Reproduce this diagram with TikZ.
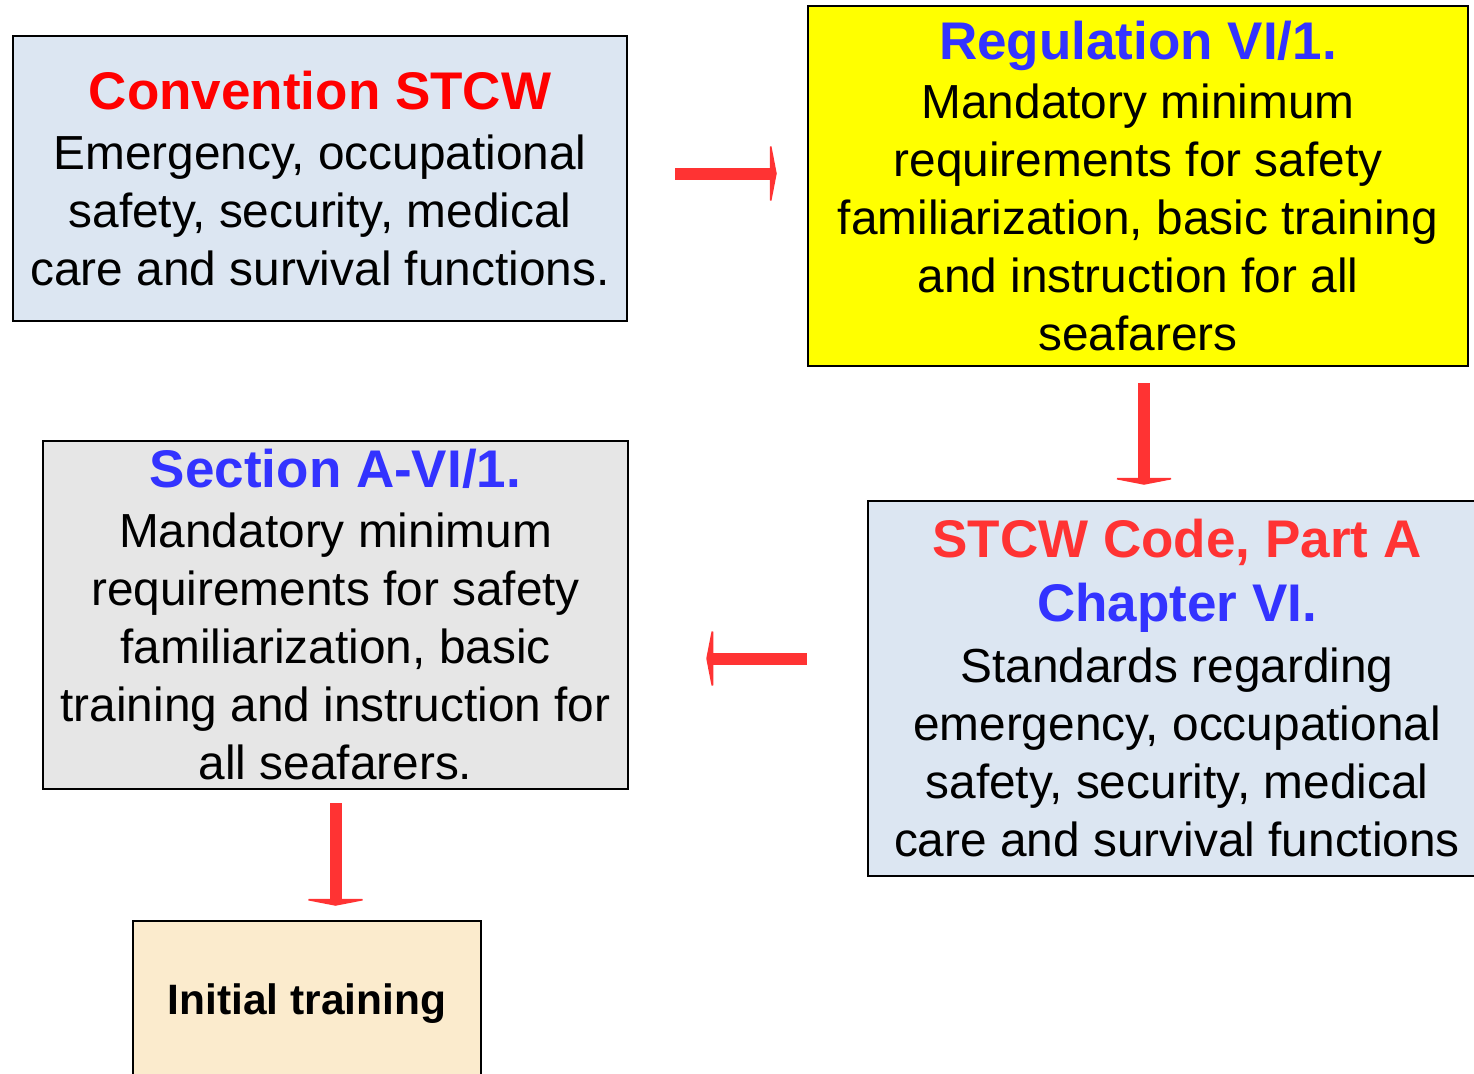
\documentclass[tikz,border=0pt]{standalone}
\usepackage{fontspec}
\setmainfont{Liberation Sans}
\usepackage{xcolor}
\usetikzlibrary{arrows.meta,calc}
\definecolor{boxblue}{HTML}{DCE6F2}
\definecolor{boxgray}{HTML}{E6E6E6}
\definecolor{boxyellow}{HTML}{FFFF00}
\definecolor{boxsand}{HTML}{FBEBCD}
\definecolor{arrowred}{HTML}{FF3333}
\definecolor{titlered}{HTML}{FF0000}
\definecolor{titleblue}{HTML}{3333FF}
\tikzset{
	box/.style={
			draw=black, line width=2.5pt, inner sep=0pt, align=center,
			font=\fontsize{47.8}{58}\selectfont
		},
	flow/.style={
			arrowred, line width=12pt,
			-{Triangle[width=72pt, length=7pt]}
		}
}
\newcommand{\boxtitle}[2]{{\bfseries\fontsize{53}{58}\selectfont\color{#1}#2}}

\begin{document}
\begin{tikzpicture}[x=1pt, y=-1pt]
		\useasboundingbox (0, 0) rectangle (1474, 1073);
		\clip (0, 0) rectangle (1474, 1073);

		\node[box, fill=boxblue, minimum width=614pt, minimum height=285pt] (conv) at (320, 178.5)
			{\boxtitle{titlered}{Convention STCW}\\[2pt]
			Emergency, occupational\\
			safety, security, medical\\
			care and survival functions.};
		\node[box, fill=boxyellow, minimum width=660pt, minimum height=360pt] (reg) at (1138, 186)
			{\boxtitle{titleblue}{Regulation VI/1.}\\[1pt]
			Mandatory minimum\\
			requirements for safety\\
			familiarization, basic training\\
			and instruction for all\\
			seafarers};
		\node[box, fill=boxblue, minimum width=618pt, minimum height=375pt] (code) at (1177, 688.5)
			{\boxtitle{arrowred}{STCW Code, Part A}\\[6pt]
			\boxtitle{titleblue}{Chapter VI.}\\[3pt]
			Standards regarding\\
			emergency, occupational\\
			safety, security, medical\\
			care and survival functions};
		\node[box, fill=boxgray, minimum width=585pt, minimum height=348pt] (sect) at (335.5, 615)
			{\boxtitle{titleblue}{Section A-VI/1.}\\[2pt]
			Mandatory minimum\\
			requirements for safety\\
			familiarization, basic\\
			training and instruction for\\
			all seafarers.};
		\node[box, fill=boxsand, minimum width=348pt, minimum height=166pt,
			font=\bfseries\fontsize{42.5}{50}\selectfont] (init) at (307, 1004)
			{Initial training};

		\draw[flow, shorten <=47pt, shorten >=30pt]	([yshift=5pt]conv.east) to ([yshift=5pt]conv.east -| reg.west);
		\draw[flow, shorten <=16pt, shorten >=15pt]	([xshift=6pt]reg.south) to ([xshift=6pt]reg.south |- code.north);
		\draw[flow, shorten <=60pt, shorten >=77pt]	([yshift=30pt]code.west) to ([yshift=30pt]code.west -| sect.east);
		\draw[flow, shorten <=13pt, shorten >=14pt]	(sect.south) to (sect.south |- init.north);
	\end{tikzpicture}
\end{document}
